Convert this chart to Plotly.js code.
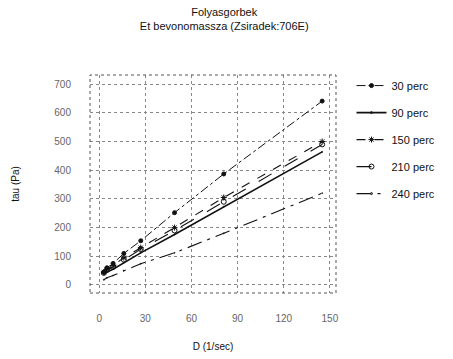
<!DOCTYPE html>
<html>
<head>
<meta charset="utf-8">
<script src="https://cdn.plot.ly/plotly-3.0.1.min.js"></script>
<style>html,body{margin:0;padding:0;background:#fff;}#chart{width:453px;height:359px;}</style>
</head>
<body>
<div id="chart"></div>
<script>
const shearRate = [3, 5, 9, 16, 27, 49, 81, 145];
const seriesNames = ["30 perc", "90 perc", "150 perc", "210 perc", "240 perc"];
const tau30 = [45, 60, 75, 110, 154, 252, 387, 641];
const tau90 = [38, 45, 55, 78, 112, 176, 273, 464];
const tau150 = [45, 55, 68, 95, 130, 200, 305, 500];
const tau210 = [42, 52, 63, 88, 125, 190, 290, 490];
const tau240 = [18, 25, 33, 50, 74, 112, 180, 320];
const xTicks = [0, 30, 60, 90, 120, 150];
const yTicks = [0, 100, 200, 300, 400, 500, 600, 700];

const styles = [
  {dash: "dashdot", width: 1, symbol: "circle", size: 4},
  {dash: "solid", width: 1.6, symbol: "circle-open", size: 1},
  {dash: "dash", width: 1.1, symbol: "asterisk-open", size: 5},
  {dash: "longdash", width: 1.1, symbol: "circle-open", size: 5},
  {dash: "longdashdot", width: 1.1, symbol: "circle-open", size: 1}
];
const values = [tau30, tau90, tau150, tau210, tau240];

const traces = values.map((v, i) => ({
  x: shearRate, y: v, name: seriesNames[i], type: "scatter",
  mode: "lines+markers", legendgroup: "g" + i,
  line: {color: "#111", width: styles[i].width, dash: styles[i].dash},
  marker: {color: "#111", symbol: styles[i].symbol, size: styles[i].size, line: {color: "#111", width: 1}}
}));

const tickFont = {family: "Liberation Sans, Arial, sans-serif", size: 10, color: "#666"};
const layout = {
  width: 453, height: 359,
  margin: {l: 90, r: 96, t: 75, b: 66},
  paper_bgcolor: "#fff", plot_bgcolor: "#fff",
  title: {
    text: "Folyasgorbek<br>Et bevonomassza (Zsiradek:706E)",
    x: 0.495, xanchor: "center", y: 0.955, yanchor: "top",
    font: {family: "Liberation Sans, Arial, sans-serif", size: 11, color: "#111"}
  },
  xaxis: {
    range: [-6, 154], tickvals: xTicks, ticktext: xTicks.map(String),
    showgrid: true, gridcolor: "#888", griddash: "dot", gridwidth: 1,
    zeroline: false, showline: false, ticks: "", ticklabelstandoff: 18,
    tickfont: tickFont,
    title: {text: "D (1/sec)", standoff: 19, font: {family: "Liberation Sans, Arial, sans-serif", size: 10, color: "#111"}}
  },
  yaxis: {
    range: [-28, 732], tickvals: yTicks, ticktext: yTicks.map(String),
    showgrid: true, gridcolor: "#888", griddash: "dot", gridwidth: 1,
    zeroline: false, showline: false, ticks: "", ticklabelstandoff: 18,
    tickfont: tickFont,
    title: {text: "tau (Pa)", standoff: 32, font: {family: "Liberation Sans, Arial, sans-serif", size: 10, color: "#111"}}
  },
  showlegend: true,
  legend: {
    x: 1.063, xanchor: "left", y: 1.018, yanchor: "top",
    font: {family: "Liberation Sans, Arial, sans-serif", size: 11, color: "#111"},
    tracegroupgap: 8, itemwidth: 30, bgcolor: "rgba(0,0,0,0)"
  },
  shapes: [{
    type: "rect", xref: "paper", yref: "paper", x0: 0, x1: 1, y0: 0, y1: 1,
    line: {color: "#555", width: 1, dash: "dot"}
  }]
};
Plotly.newPlot("chart", traces, layout, {displayModeBar: false, staticPlot: true});
</script>
</body>
</html>
